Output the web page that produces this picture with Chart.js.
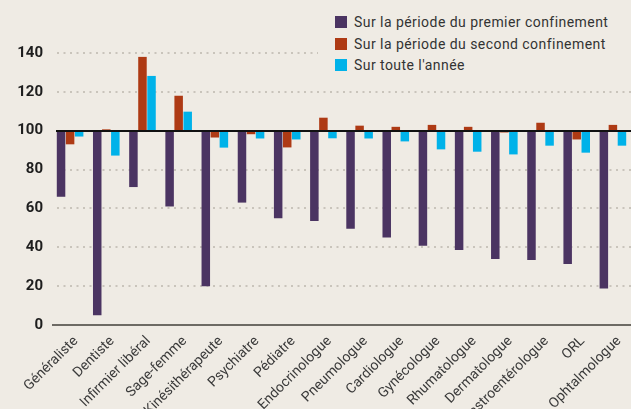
<!DOCTYPE html>
<html>
<head>
<meta charset="utf-8">
<script src="https://cdn.jsdelivr.net/npm/chart.js@4/dist/chart.umd.min.js"></script>
<style>
  html, body { margin: 0; padding: 0; background: #efebe4; }
  #wrap { position: relative; width: 631px; height: 409px; }
  #legend { position: absolute; left: 318px; top: 9px; width: 313px; height: 68px; background: #efebe4;
            font-family: Roboto, sans-serif; font-size: 14px; letter-spacing: 0.45px; color: #333; }
  .item { position: absolute; left: 17px; height: 16px; line-height: 16px; white-space: nowrap; }
  .sw { display: inline-block; width: 12px; height: 12px; vertical-align: -1px; margin-right: 7px; }
</style>
</head>
<body>
<div id="wrap">
  <canvas id="c" width="631" height="409"></canvas>
  <div id="legend"></div>
</div>
<script>
const categories = ["Généraliste","Dentiste","Infirmier libéral","Sage-femme","Kinésithérapeute","Psychiatre","Pédiatre","Endocrinologue","Pneumologue","Cardiologue","Gynécologue","Rhumatologue","Dermatologue","Gastroentérologue","ORL","Ophtalmologue"];
const seriesNames = ["Sur la période du premier confinement","Sur la période du second confinement","Sur toute l'année"];
const premier = [66, 5, 71, 61, 20, 63, 55, 53.5, 49.5, 45, 40.8, 38.6, 34, 33.5, 31.4, 18.8];
const second  = [93, 100.7, 138, 118, 96.5, 98.2, 91.4, 106.7, 102.6, 102, 103, 102, 99.1, 104.1, 95.5, 103];
const annee   = [97, 87.2, 128.2, 109.8, 91.3, 96, 95.5, 96.1, 96, 94.5, 90.4, 89.2, 87.8, 92.3, 88.7, 92.3];
const yTicks  = [0, 20, 40, 60, 80, 100, 120, 140];
const baseline = 100;
const colors = ["#4b3462", "#ae3a14", "#00b2e9"];

const refLines = {
  id: 'refLines',
  beforeDatasetsDraw(chart) {
    const {ctx, chartArea, scales} = chart;
    ctx.save();
    ctx.strokeStyle = '#c9c4bb';
    ctx.lineWidth = 2;
    ctx.setLineDash([2, 4.5]);
    yTicks.forEach(v => {
      if (v === 0 || v === baseline) return;
      const y = Math.round(scales.y.getPixelForValue(v));
      ctx.beginPath();
      ctx.moveTo(chartArea.left + 5, y);
      ctx.lineTo(chartArea.right, y);
      ctx.stroke();
    });
    ctx.restore();
  },
  afterDatasetsDraw(chart) {
    const {ctx, chartArea, scales} = chart;
    ctx.save();
    const y100 = Math.round(scales.y.getPixelForValue(baseline));
    ctx.strokeStyle = '#111';
    ctx.lineWidth = 2;
    ctx.beginPath();
    ctx.moveTo(chartArea.left + 4, y100);
    ctx.lineTo(chartArea.right, y100);
    ctx.stroke();
    const y0 = Math.round(scales.y.getPixelForValue(0));
    ctx.strokeStyle = '#6d6a64';
    ctx.lineWidth = 2;
    ctx.beginPath();
    ctx.moveTo(chartArea.left, y0);
    ctx.lineTo(chartArea.right, y0);
    ctx.stroke();
    ctx.restore();
  }
};

const toFloat = arr => arr.map(v => [baseline, v]);

const chart = new Chart(document.getElementById('c'), {
  type: 'bar',
  data: {
    labels: categories,
    datasets: [
      { label: seriesNames[0], data: toFloat(premier), backgroundColor: colors[0] },
      { label: seriesNames[1], data: toFloat(second), backgroundColor: colors[1] },
      { label: seriesNames[2], data: toFloat(annee), backgroundColor: colors[2] }
    ]
  },
  options: {
    responsive: false,
    animation: false,
    devicePixelRatio: 1,
    layout: { padding: { top: 53, right: 0, left: 0, bottom: 0 } },
    datasets: { bar: { categoryPercentage: 0.75, barPercentage: 0.94, borderWidth: 0 } },
    plugins: { legend: { display: false }, tooltip: { enabled: false } },
    scales: {
      x: {
        grid: { display: false },
        border: { display: false },
        ticks: {
          autoSkip: false, minRotation: 45, maxRotation: 45, padding: 0, labelOffset: 6,
          color: '#3a3a3a', font: { family: 'Roboto', size: 14 }
        },
        afterFit(scale) { scale.height = 84; }
      },
      y: {
        min: 0, max: 140,
        afterBuildTicks(scale) { scale.ticks = yTicks.map(v => ({ value: v })); },
        grid: { display: false, drawTicks: false },
        border: { display: false },
        ticks: {
          padding: 9, color: '#1e1e1e',
          font: { family: 'Roboto', size: 15, weight: 'bold' }
        },
        afterFit(scale) { scale.width = 52; }
      }
    }
  },
  plugins: [refLines]
});

const legend = document.getElementById('legend');
chart.data.datasets.forEach((ds, i) => {
  const d = document.createElement('div');
  d.className = 'item';
  d.style.top = (5 + i * 21.5) + 'px';
  const sw = document.createElement('span');
  sw.className = 'sw';
  sw.style.background = ds.backgroundColor;
  d.appendChild(sw);
  d.appendChild(document.createTextNode(ds.label));
  legend.appendChild(d);
});
</script>
</body>
</html>
